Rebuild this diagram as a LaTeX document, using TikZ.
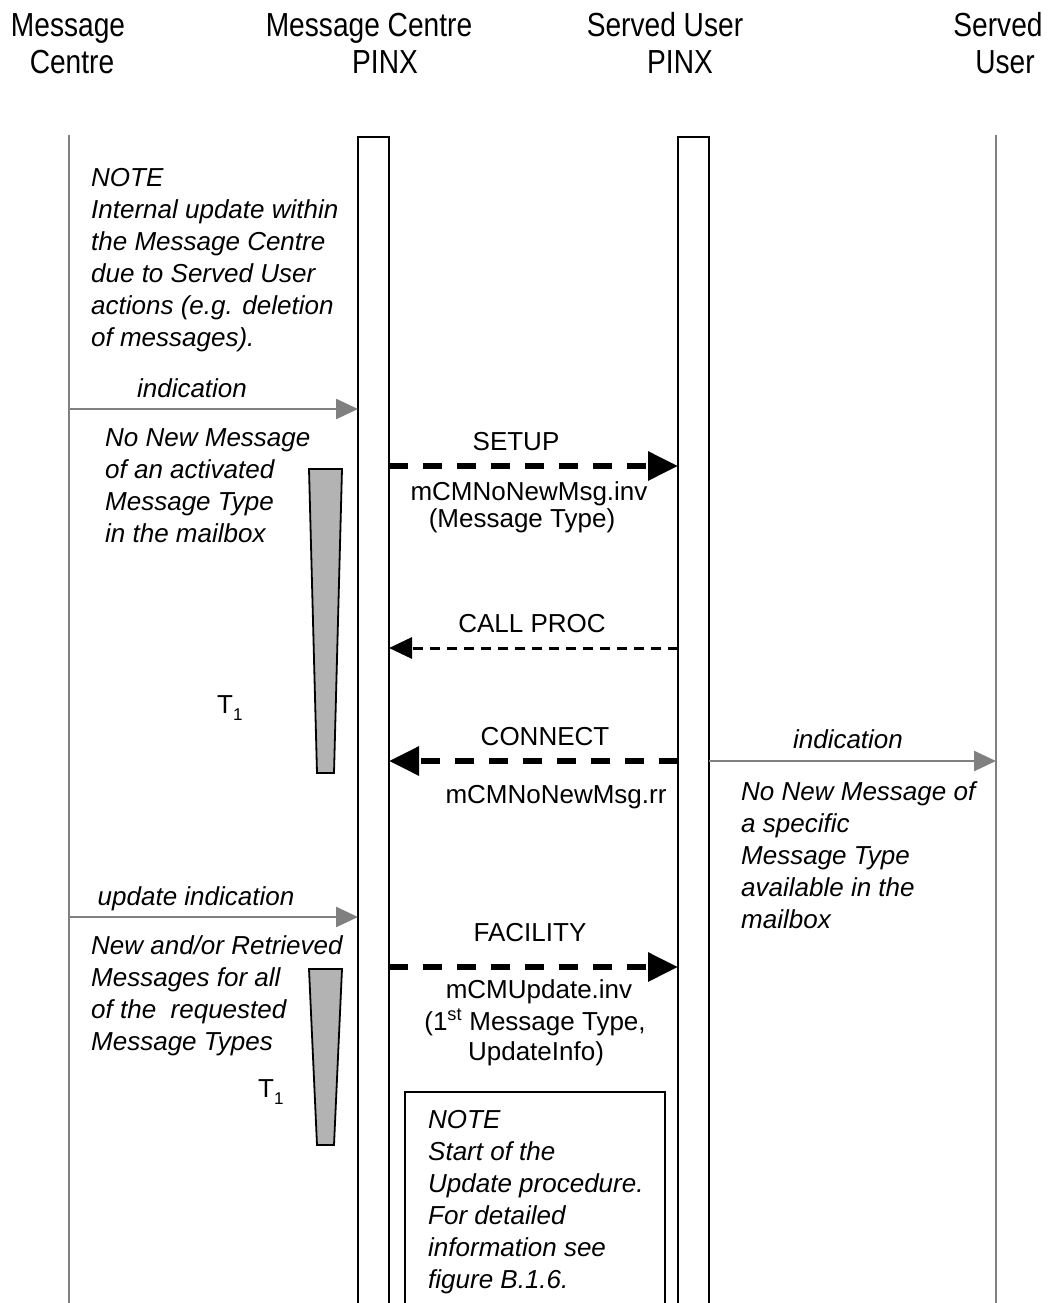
\documentclass[tikz,border=0pt]{standalone}
\usepackage{fontspec}
\setmainfont{Liberation Sans}
\usetikzlibrary{arrows.meta}
\definecolor{lifegray}{HTML}{808080}
\definecolor{wedgegray}{HTML}{B3B3B3}
\newcommand\tlines[1]{\begin{tabular}[t]{@{}l@{}}#1\end{tabular}}
\newcommand\hstretch[1]{\scalebox{0.97}[1.15]{#1}}
\begin{document}
\begin{tikzpicture}[x=1pt,y=-1pt,
  hdr/.style={font=\fontsize{29}{37}\selectfont, inner sep=0, anchor=base},
  ctxt/.style={font=\fontsize{26}{32}\selectfont, inner sep=0, anchor=base},
  itxt/.style={font=\fontsize{26}{32}\selectfont\itshape, inner sep=0, anchor=base west},
  ilbl/.style={font=\fontsize{26}{32}\selectfont\itshape, inner sep=0, anchor=base},
  grayline/.style={draw=lifegray, line width=2pt},
  pinxbox/.style={draw=black, line width=2.5pt},
  grayarrow/.style={draw=lifegray, line width=2.5pt, -{Triangle[length=22pt,width=20pt]}},
  thickmsg/.style={draw=black, line width=6pt, dash pattern=on 19pt off 15pt, -{Triangle[length=30pt,width=28pt]}},
  thinmsg/.style={draw=black, line width=3pt, dash pattern=on 10pt off 7pt, -{Triangle[length=23pt,width=21pt]}},
  wedge/.style={draw=black, fill=wedgegray, line width=1.8pt}]
\useasboundingbox (0,0) rectangle (1051,1303);
\fill[white] (0,0) rectangle (1051,1303);

% headers
\node[hdr] (h1a) at (68,37) {\hstretch{Message}};
\node[hdr] (h1b) at (72,74) {\hstretch{Centre}};
\node[hdr] (h2a) at (369,37) {\hstretch{Message Centre}};
\node[hdr] (h2b) at (385,74) {\hstretch{PINX}};
\node[hdr] (h3a) at (665,37) {\hstretch{Served User}};
\node[hdr] (h3b) at (680,74) {\hstretch{PINX}};
\node[hdr] (h4a) at (998,37) {\hstretch{Served}};
\node[hdr] (h4b) at (1005,74) {\hstretch{User}};

% lifelines
\coordinate (mcTop) at (69,135);
\coordinate (mcBot) at (69,1304);
\coordinate (suTop) at (996,135);
\coordinate (suBot) at (996,1304);
\draw[grayline] (mcTop) -- (mcBot);
\draw[grayline] (suTop) -- (suBot);
\draw[pinxbox] (358,1306) -- (358,137) -- (389,137) -- (389,1306);
\draw[pinxbox] (678,1306) -- (678,137) -- (709,137) -- (709,1306);

% left note
\node[itxt] (note1) at (91,186) {\tlines{NOTE\\Internal update within\\the Message Centre\\due to Served User\\actions (e.g. deletion\\of messages).}};

% indication 1
\coordinate (ind1s) at (69,409);
\coordinate (ind1e) at (358,409);
\draw[grayarrow] (ind1s) -- (ind1e);
\node[ilbl] (ind1l) at (192,397) {indication};
\node[itxt] (nonew1) at (105,446) {\tlines{No New Message\\of an activated\\Message Type\\in the mailbox}};

% wedge 1
\draw[wedge] (309,469) -- (342,469) -- (334,773) -- (317,773) -- cycle;
\node[inner sep=0, anchor=base west, font=\fontsize{26}{32}\selectfont] (t1a) at (217,713) {T\raisebox{-7pt}{\fontsize{17}{17}\selectfont 1}};

% SETUP
\coordinate (setupS) at (389,466);
\coordinate (setupE) at (678,466);
\draw[thickmsg] (setupS) -- (setupE);
\node[ctxt] (setupL) at (516,450) {SETUP};
\node[ctxt] (setupP1) at (529,500) {mCMNoNewMsg.inv};
\node[ctxt] (setupP2) at (522,527) {(Message Type)};

% CALL PROC
\coordinate (cpS) at (678,648);
\coordinate (cpE) at (389,648);
\draw[thinmsg] (cpS) -- (cpE);
\node[ctxt] (cpL) at (532,632) {CALL PROC};

% CONNECT
\coordinate (conS) at (678,761);
\coordinate (conE) at (389,761);
\draw[thickmsg] (conS) -- (conE);
\node[ctxt] (conL) at (545,745) {CONNECT};
\node[ctxt] (conP) at (556,803) {mCMNoNewMsg.rr};

% indication right
\coordinate (ind2s) at (709,761);
\coordinate (ind2e) at (996,761);
\draw[grayarrow] (ind2s) -- (ind2e);
\node[ilbl] (ind2l) at (848,748) {indication};
\node[itxt] (nonew2) at (741,800) {\tlines{No New Message of\\a specific\\Message Type\\available in the\\mailbox}};

% update indication
\coordinate (upds) at (69,917);
\coordinate (upde) at (358,917);
\draw[grayarrow] (upds) -- (upde);
\node[ilbl] (updl) at (196,905) {update indication};
\node[itxt] (newret) at (91,954) {\tlines{New and/or Retrieved\\Messages for all\\of the \ requested\\Message Types}};

% wedge 2
\draw[wedge] (309,969) -- (342,969) -- (334,1145) -- (317,1145) -- cycle;
\node[inner sep=0, anchor=base west, font=\fontsize{26}{32}\selectfont] (t1b) at (258,1097) {T\raisebox{-7pt}{\fontsize{17}{17}\selectfont 1}};

% FACILITY
\coordinate (facS) at (389,967);
\coordinate (facE) at (678,967);
\draw[thickmsg] (facS) -- (facE);
\node[ctxt] (facL) at (530,941) {FACILITY};
\node[ctxt] (facP1) at (539,998) {mCMUpdate.inv};
\node[ctxt] (facP2) at (535,1030) {(1\textsuperscript{st} Message Type,};
\node[ctxt] (facP3) at (536,1060) {UpdateInfo)};

% note box
\draw[black, line width=1.5pt] (405,1310) -- (405,1092) -- (665,1092) -- (665,1310);
\node[itxt] (note2) at (428,1128) {\tlines{NOTE\\Start of the\\Update procedure.\\For detailed\\information see\\figure B.1.6.}};
\end{tikzpicture}
\end{document}
